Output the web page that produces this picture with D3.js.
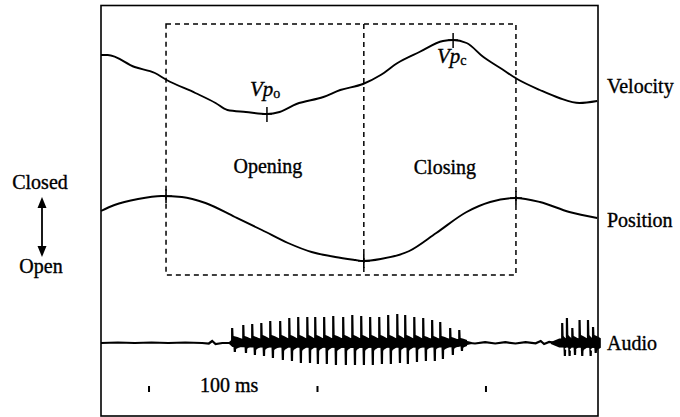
<!DOCTYPE html>
<html>
<head>
<meta charset="utf-8">
<script src="https://cdn.jsdelivr.net/npm/d3@7/dist/d3.min.js"></script>
<style>
  html, body { margin: 0; padding: 0; background: #fff; }
  svg text { font-family: "Liberation Serif", "DejaVu Serif", serif; fill: #000; stroke: #000; stroke-width: 0.35px; }
</style>
</head>
<body>
<div id="chart"></div>
<script>
(function() {
  'use strict';

  // time in ms from left edge of the frame
  var velT = [0, 4, 20, 32, 39, 56, 68, 75, 86, 98.5, 106, 116, 132, 142, 155.5, 166, 176, 189, 203, 209, 217, 227, 237, 247, 260.5, 272, 284, 294.5];
  var velV = [65, 65, 53, 47, 40, 27, 17, 10, 8, 6, 8, 16, 23, 30, 36, 45, 57, 68, 79, 80, 77, 63, 52, 41, 30, 22, 17, 19];

  var posT = [0, 8, 22, 36, 48, 62, 79.5, 95.5, 111, 125, 139, 151, 155.5, 166, 183, 199, 217, 231, 246, 260.5, 278, 294.5];
  var posV = [54, 60, 66, 69, 68, 62, 48, 35, 22, 13, 8, 5, 4, 6, 14, 32, 53, 63, 67, 63, 53, 47];

  var quietT = [0, 10, 20, 30, 40, 50, 60, 64, 66, 68, 72, 77, 212, 216, 222, 228, 234, 240, 246, 252, 258, 261, 263, 266, 270, 295];
  var quietV = [0, 0.5, 0, 0.5, 0, 0.5, 0, -0.5, 2, -1, 0, 0, 0, 0.5, -0.5, 0.8, -0.5, 0.8, -0.5, 0.8, -0.3, 2, -1, 1, 0, 0];

  // dense core of the voiced stretches
  var bandT = [76, 78, 90, 150, 205, 212, 216, 220];
  var bandUp = [1, 4, 4.5, 5, 4.5, 4, 2.5, 1];
  var bandLo = [-1, -4, -4.5, -5, -4.5, -4, -2.5, -1];
  var band2T = [267, 272, 295];
  var band2Up = [1, 4.5, 5];
  var band2Lo = [-1, -4.5, -5];

  var spikeT = [77.7, 84.3, 89.6, 95.0, 100.3, 106.2, 111.6, 116.9, 122.3, 127.0, 132.3, 137.7, 143.6, 149.0, 154.3, 159.6, 165.0, 170.3, 175.7, 180.4, 185.8, 191.1, 196.4, 201.2, 207.1, 212.5, 273.6, 276.4, 279.6, 283.9, 288.9, 291.9];
  var spikeTop = [15, 18, 19, 20, 22, 22, 25, 26, 26, 26, 26, 27, 26, 28, 27, 26, 26, 28, 29, 28, 26, 25, 23, 21, 15, 13, 20, 25, 15, 23, 23, 16];
  var spikeBot = [-9, -10, -12, -13, -15, -17, -18, -20, -20, -21, -21, -22, -22, -22, -22, -22, -21, -21, -20, -21, -19, -18, -18, -16, -12, -8, -13, -13, -12, -13, -13, -10];
  // envelope of the ringing right after each pulse
  var ringUp = [7, 7, 7, 8, 8, 8, 8, 8, 8, 8, 8, 8, 8, 8, 8, 8, 8, 8, 8, 8, 8, 7, 7, 7, 6, 5, 7, 8, 7, 8, 8, 8];
  var ringLo = [-6, -6, -7, -7, -7, -8, -8, -8, -8, -8, -8, -8, -8, -8, -8, -8, -8, -8, -8, -8, -7, -7, -7, -7, -6, -5, -7, -8, -7, -8, -8, -8];

  var onsetT = 38.6, turnT = 156, endT = 246.3;
  var vpT = [98.5, 209];
  var markT = [28.5, 128.5, 228.5];

  var width = 680, height = 417;
  var svg = d3.select('#chart').append('svg')
    .attr('width', width)
    .attr('height', height);

  var x = d3.scaleLinear().domain([0, 295]).range([101, 598]);
  var yVel = d3.scaleLinear().domain([0, 90]).range([120, 30]);
  var yPos = d3.scaleLinear().domain([0, 70]).range([265, 195]);
  var yAud = d3.scaleLinear().domain([-30, 30]).range([373, 313]);

  function zip(a, b) {
    return a.map(function(d, i) { return [d, b[i]]; });
  }

  // frame
  svg.append('rect')
    .attr('x', x(0)).attr('y', 5.5)
    .attr('width', x(295) - x(0)).attr('height', 410.5)
    .attr('fill', 'none').attr('stroke', '#000').attr('stroke-width', 1.6);

  // dashed phase box
  var boxTop = yVel(96), boxBottom = yPos(-10);
  var dashed = svg.append('g')
    .attr('fill', 'none').attr('stroke', '#000')
    .attr('stroke-width', 1.5).attr('stroke-dasharray', '5,4');
  dashed.append('rect')
    .attr('x', x(onsetT)).attr('y', boxTop)
    .attr('width', x(endT) - x(onsetT)).attr('height', boxBottom - boxTop);
  dashed.append('line')
    .attr('x1', x(turnT)).attr('x2', x(turnT))
    .attr('y1', boxTop).attr('y2', boxBottom);

  var curve = d3.curveMonotoneX;
  var velLine = d3.line().curve(curve)
    .x(function(d) { return x(d[0]); })
    .y(function(d) { return yVel(d[1]); });
  var posLine = d3.line().curve(curve)
    .x(function(d) { return x(d[0]); })
    .y(function(d) { return yPos(d[1]); });

  svg.append('path')
    .attr('d', velLine(zip(velT, velV)))
    .attr('fill', 'none').attr('stroke', '#000').attr('stroke-width', 1.9);
  svg.append('path')
    .attr('d', posLine(zip(posT, posV)))
    .attr('fill', 'none').attr('stroke', '#000').attr('stroke-width', 1.9);

  // event marks
  var velAt = d3.scaleLinear().domain(velT).range(velV);
  var posAt = d3.scaleLinear().domain(posT).range(posV);
  vpT.forEach(function(t) {
    var yy = yVel(velAt(t));
    svg.append('line')
      .attr('x1', x(t)).attr('x2', x(t))
      .attr('y1', yy - 7).attr('y2', yy + 8)
      .attr('stroke', '#000').attr('stroke-width', 1.5);
    svg.append('line')
      .attr('x1', x(t) - 5).attr('x2', x(t) + 5)
      .attr('y1', yy).attr('y2', yy)
      .attr('stroke', '#000').attr('stroke-width', 1.5);
  });
  [onsetT, turnT, endT].forEach(function(t) {
    var yy = yPos(posAt(t));
    svg.append('line')
      .attr('x1', x(t)).attr('x2', x(t))
      .attr('y1', yy - 7).attr('y2', yy + 7)
      .attr('stroke', '#000').attr('stroke-width', 1.6);
    svg.append('line')
      .attr('x1', x(t) - 6).attr('x2', x(t) + 6)
      .attr('y1', yy).attr('y2', yy)
      .attr('stroke', '#000').attr('stroke-width', 1.6);
  });

  // audio
  var audLine = d3.line()
    .x(function(d) { return x(d[0]); })
    .y(function(d) { return yAud(d[1]); });
  svg.append('path')
    .attr('d', audLine(zip(quietT, quietV)))
    .attr('fill', 'none').attr('stroke', '#000').attr('stroke-width', 2.2);

  var band = d3.area()
    .x(function(d) { return x(d[0]); })
    .y0(function(d) { return yAud(d[2]); })
    .y1(function(d) { return yAud(d[1]); });
  [[bandT, bandUp, bandLo], [band2T, band2Up, band2Lo]].forEach(function(b) {
    svg.append('path')
      .attr('d', band(b[0].map(function(t, i) { return [t, b[1][i], b[2][i]]; })))
      .attr('fill', '#000');
  });

  // each glottal pulse: a sharp peak then ringing that dies away before the next one
  var pulses = spikeT.map(function(t, i) {
    var next = spikeT[i + 1];
    var period = (next && next - t < 8) ? next - t : 5.3;
    return { t: t, p: period, top: spikeTop[i], bot: spikeBot[i], up: ringUp[i], lo: ringLo[i] };
  });
  svg.append('g').selectAll('path')
    .data(pulses)
    .enter()
    .append('path')
    .attr('fill', '#000')
    .attr('d', function(d) {
      var pts = [
        [d.t - 0.5, 0],
        [d.t - 0.5, d.top],
        [d.t + 0.8, d.top],
        [d.t + 1.0, d.up],
        [d.t + d.p * 0.5, d.up * 0.85],
        [d.t + d.p * 0.9, d.up * 0.6],
        [d.t + d.p * 0.9, d.lo * 0.6],
        [d.t + d.p * 0.55, d.lo * 0.85],
        [d.t + 2.5, d.lo],
        [d.t + 2.4, d.bot],
        [d.t + 1.1, d.bot],
        [d.t + 0.9, d.lo * 0.6],
        [d.t - 0.5, 0]
      ];
      return audLine(pts) + 'Z';
    });

  // 100 ms time marks
  svg.append('g').selectAll('rect')
    .data(markT)
    .enter()
    .append('rect')
    .attr('x', function(d) { return x(d) - 1; })
    .attr('y', 386)
    .attr('width', 2).attr('height', 6)
    .attr('fill', '#000');

  // labels
  var fs = 20;
  function label(txt, px, py, anchor) {
    return svg.append('text')
      .attr('x', px).attr('y', py)
      .attr('text-anchor', anchor || 'start')
      .style('font-size', fs + 'px')
      .text(txt);
  }
  label('Velocity', 607, 93);
  label('Position', 607, 227);
  label('Audio', 607, 350);
  label('Opening', x((onsetT + turnT) / 2) + 3, 173, 'middle');
  label('Closing', x((turnT + endT) / 2) + 5, 174, 'middle');
  label('100 ms', 200, 392);
  label('Closed', 40, 189, 'middle');
  label('Open', 41, 273, 'middle');

  function vp(sub, px, py) {
    var t = svg.append('text').attr('x', px).attr('y', py)
      .style('font-size', '21px').style('font-style', 'italic');
    t.append('tspan').text('Vp');
    t.append('tspan').attr('dy', 2).style('font-size', '14px').style('font-style', 'normal').text(sub);
  }
  vp('o', 250, 96);
  vp('c', 437, 63);

  // closed/open arrow
  var ax = 42;
  svg.append('line')
    .attr('x1', ax).attr('x2', ax).attr('y1', 203).attr('y2', 251)
    .attr('stroke', '#000').attr('stroke-width', 1.8);
  svg.append('path')
    .attr('d', 'M' + ax + ',197 L' + (ax - 4.5) + ',208 L' + (ax + 4.5) + ',208 Z')
    .attr('fill', '#000');
  svg.append('path')
    .attr('d', 'M' + ax + ',257 L' + (ax - 4.5) + ',246 L' + (ax + 4.5) + ',246 Z')
    .attr('fill', '#000');

})();
</script>
</body>
</html>
